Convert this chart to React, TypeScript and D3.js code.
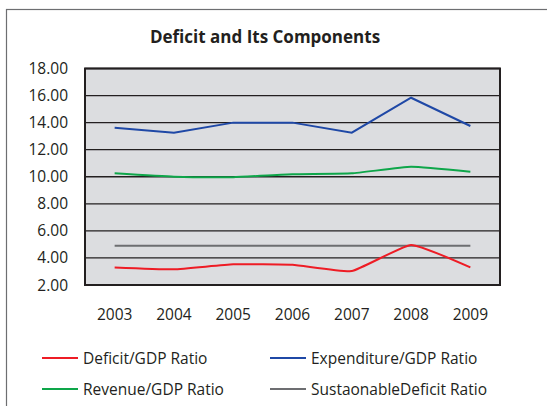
import React from "react";
import * as d3 from "d3";

const years = ["2003", "2004", "2005", "2006", "2007", "2008", "2009"];
const deficit = [3.3, 3.16, 3.53, 3.5, 3.03, 4.96, 3.3];
const expenditure = [13.63, 13.26, 14.0, 14.0, 13.26, 15.84, 13.75];
const revenue = [10.25, 10.0, 9.97, 10.18, 10.25, 10.74, 10.37];
const sustainable = [4.9, 4.9, 4.9, 4.9, 4.9, 4.9, 4.9];
const yTicks = [2, 4, 6, 8, 10, 12, 14, 16, 18];
const seriesNames = ["Deficit/GDP Ratio", "Expenditure/GDP Ratio", "Revenue/GDP Ratio", "SustaonableDeficit Ratio"];

const W = 547, H = 406;
const plot = { left: 85, right: 500, top: 68.5, bottom: 285 };
const FONT = "'Open Sans', sans-serif";
const TXT = "#231f20";

export default function App() {
  const x = d3.scaleBand().domain(years).range([plot.left, plot.right]).padding(0);
  const y = d3.scaleLinear().domain([2, 18]).range([plot.bottom, plot.top]);
  const cx = (d: string) => (x(d) as number) + x.bandwidth() / 2;

  const mk = (vals: number[], curve: d3.CurveFactory) =>
    d3.line<number>().x((_, i) => cx(years[i])).y((v) => y(v)).curve(curve)(vals) as string;

  const smooth = d3.curveCardinal.tension(0.6);
  const series = [
    { name: seriesNames[0], vals: deficit, color: "#ee1c25", curve: smooth },
    { name: seriesNames[1], vals: expenditure, color: "#1f48a6", curve: d3.curveLinear },
    { name: seriesNames[2], vals: revenue, color: "#0ea64a", curve: smooth },
    { name: seriesNames[3], vals: sustainable, color: "#6d6e71", curve: d3.curveLinear },
  ];
  const drawOrder = [3, 2, 0, 1];
  const legendPos = [
    { x: 42, y: 358 },
    { x: 270, y: 358 },
    { x: 42, y: 389 },
    { x: 270, y: 389 },
  ];

  return (
    <svg width={W} height={H} style={{ position: "absolute", left: 0, top: 0, background: "#fff" }} fontFamily={FONT}>
      <rect x={6.5} y={9.5} width={700} height={500} fill="#fff" stroke="#6d6e71" strokeWidth={1.2} />
      <text x={265} y={43} textAnchor="middle" fontSize={17} fontWeight="bold" fill={TXT}>
        Deficit and Its Components
      </text>
      <rect x={plot.left} y={plot.top} width={plot.right - plot.left} height={plot.bottom - plot.top} fill="#dcdde0" />
      {yTicks.map((t) => (
        <g key={t}>
          <line x1={plot.left} x2={plot.right} y1={y(t)} y2={y(t)} stroke="#231f20" strokeWidth={1.3} />
          <text x={68} y={y(t) + 5.5} textAnchor="end" fontSize={15.5} fill={TXT}>
            {t.toFixed(2)}
          </text>
        </g>
      ))}
      <rect x={plot.left} y={plot.top} width={plot.right - plot.left} height={plot.bottom - plot.top} fill="none" stroke="#231f20" strokeWidth={2} />
      {drawOrder.map((i) => (
        <path key={i} d={mk(series[i].vals, series[i].curve)} fill="none" stroke={series[i].color} strokeWidth={2} />
      ))}
      {years.map((yr) => (
        <text key={yr} x={cx(yr)} y={319.5} textAnchor="middle" fontSize={15.5} fill={TXT}>
          {yr}
        </text>
      ))}
      {series.map((s, i) => (
        <g key={s.name}>
          <line x1={legendPos[i].x} x2={legendPos[i].x + 36} y1={legendPos[i].y} y2={legendPos[i].y} stroke={s.color} strokeWidth={2} />
          <text x={legendPos[i].x + 41} y={legendPos[i].y + 5.5} fontSize={15.5} fill={TXT}>
            {s.name}
          </text>
        </g>
      ))}
    </svg>
  );
}
